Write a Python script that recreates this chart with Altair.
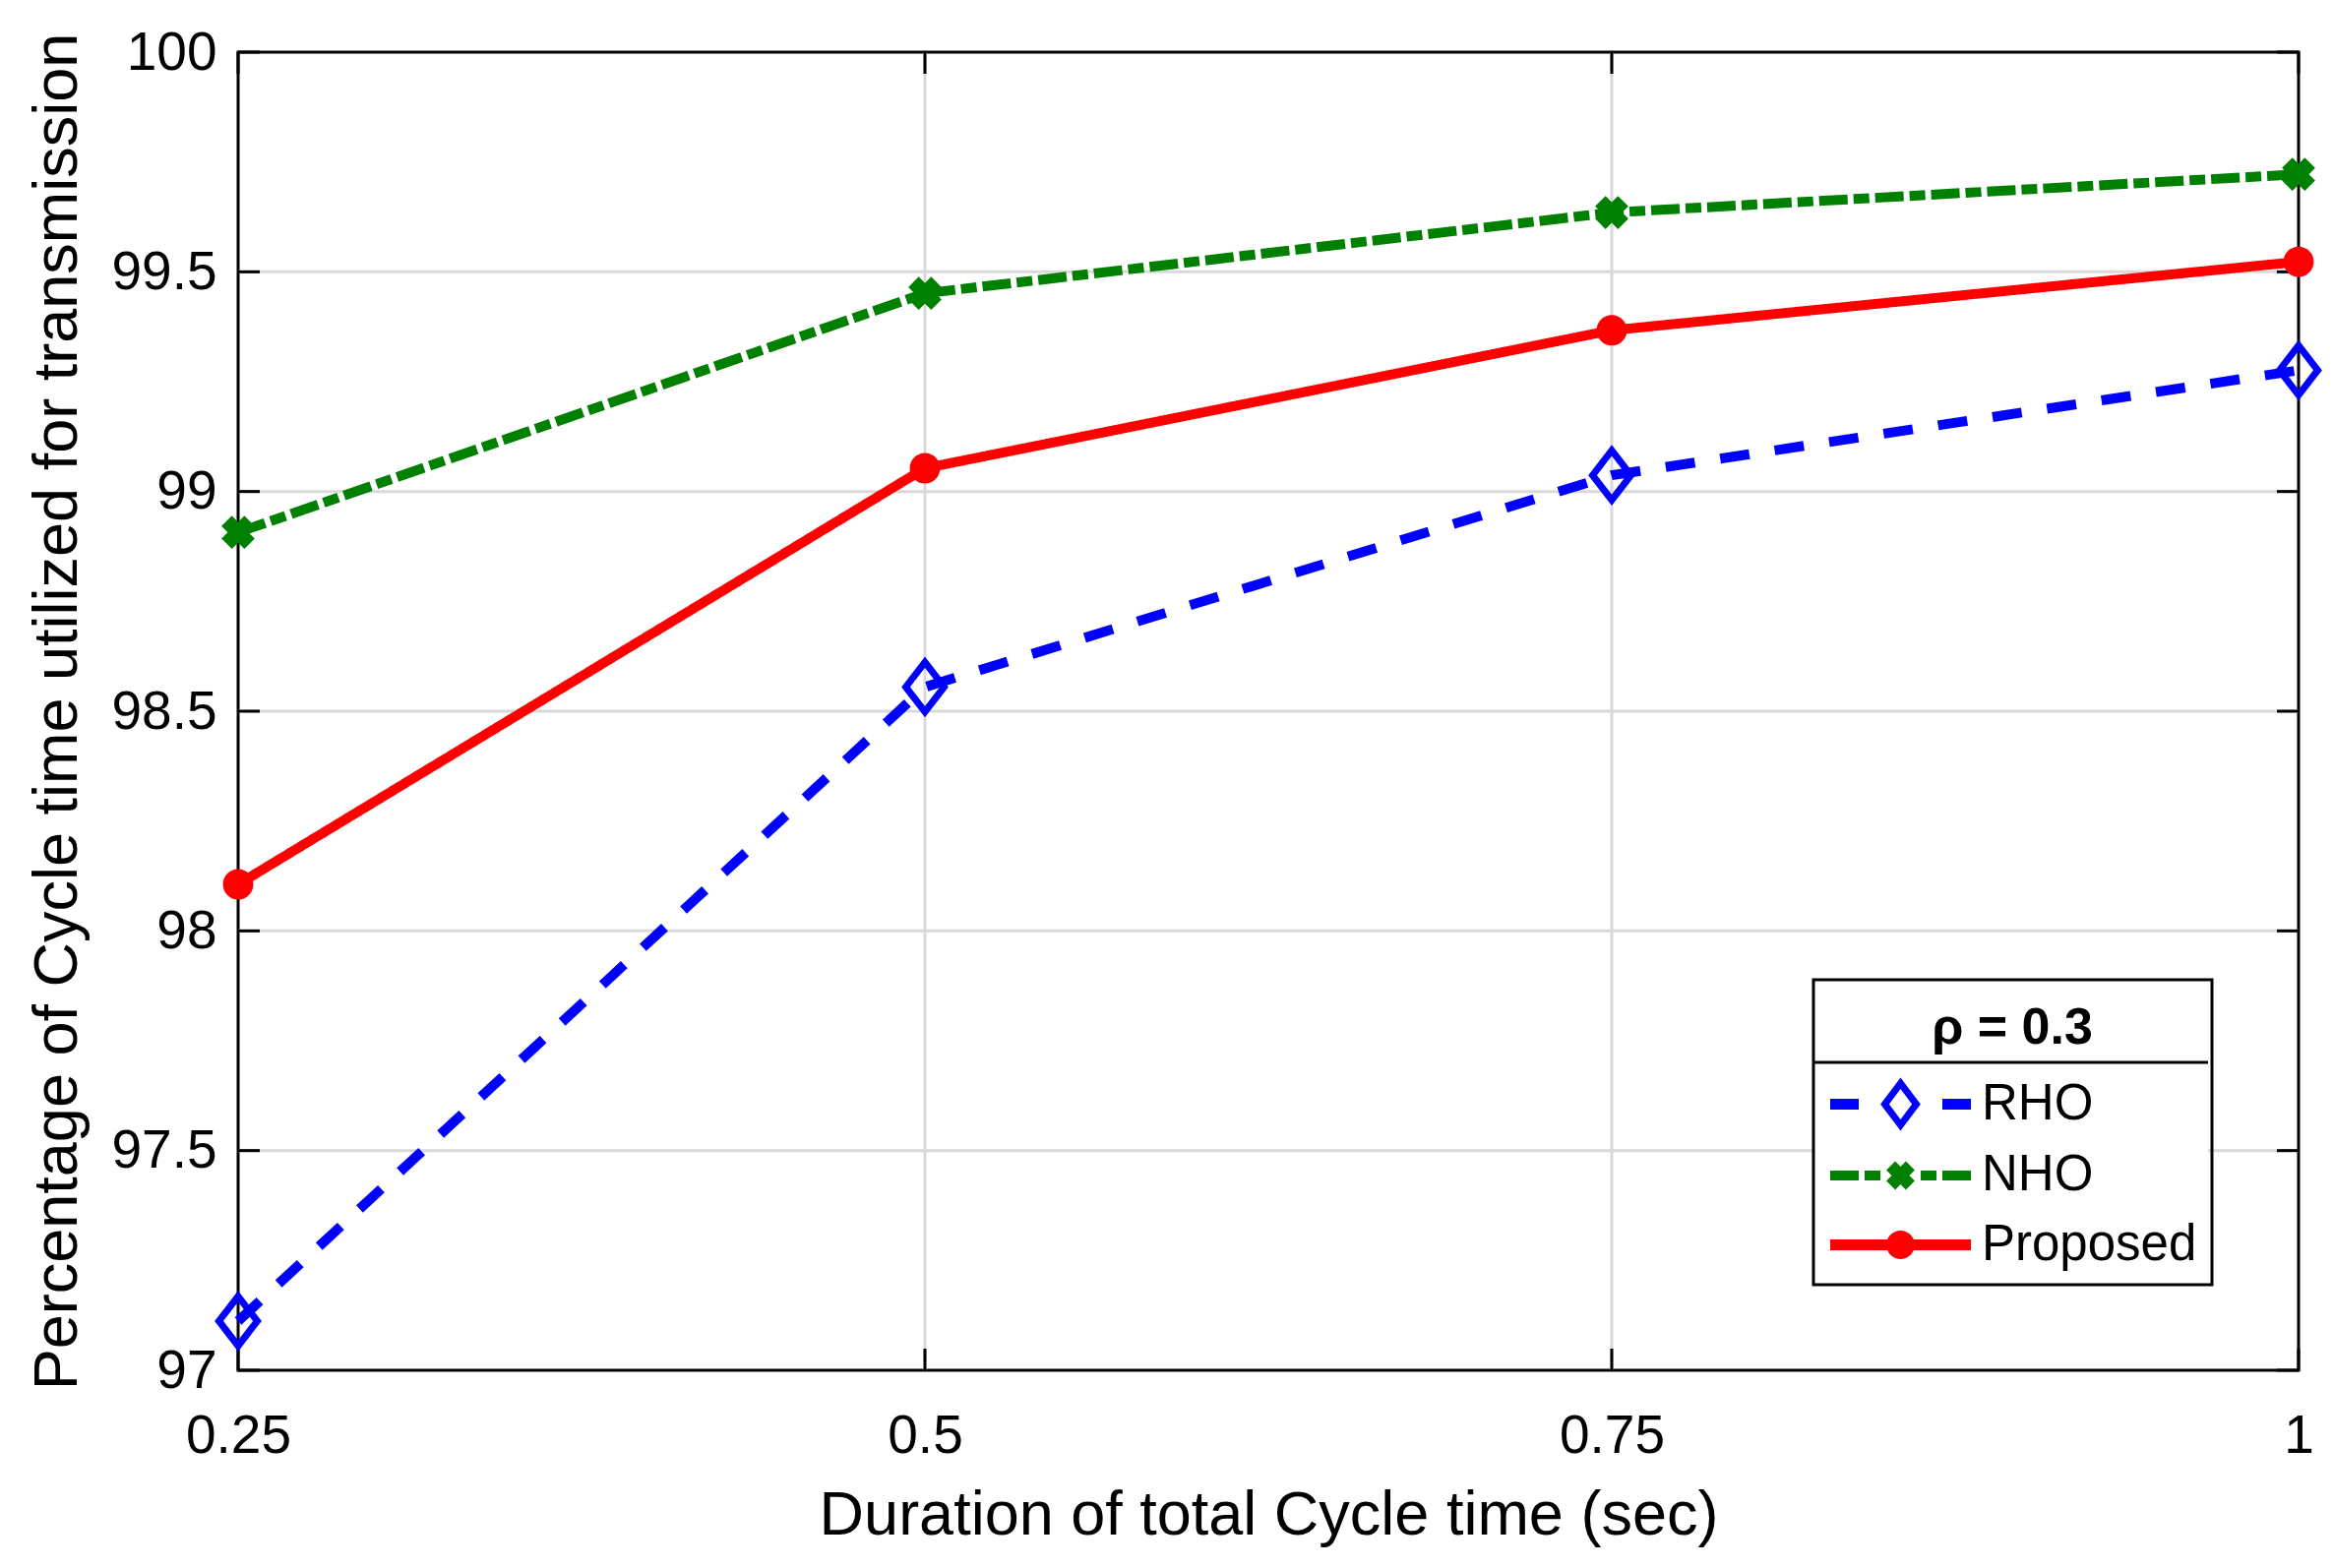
import altair as alt
import pandas as pd

# ---- data ----
x_vals = [0.25, 0.5, 0.75, 1.0]
rho_vals = [97.112, 98.555, 99.037, 99.276]
nho_vals = [98.907, 99.451, 99.635, 99.722]
proposed_vals = [98.106, 99.053, 99.367, 99.523]
series_names = ["RHO", "NHO", "Proposed"]
y_ticks = [97, 97.5, 98, 98.5, 99, 99.5, 100]
x_ticks = [0.25, 0.5, 0.75, 1.0]

rows = []
for name, vals in zip(series_names, [rho_vals, nho_vals, proposed_vals]):
    for xv, yv in zip(x_vals, vals):
        rows.append({"x": xv, "y": yv, "series": name})
df = pd.DataFrame(rows)
yt = pd.DataFrame({"v": y_ticks})
xt = pd.DataFrame({"v": x_ticks})
yg = pd.DataFrame({"v": y_ticks[1:-1]})
xg = pd.DataFrame({"v": x_ticks[1:-1]})
one = pd.DataFrame({"a": [0]})

W, H = 2094, 1340
TL = 22
FONT = "Liberation Sans"
colors = ["#0000ff", "#008000", "#ff0000"]
GRID = "#d9d9d9"

xscale = alt.Scale(domain=[0.25, 1.0], nice=False, zero=False)
yscale = alt.Scale(domain=[97, 100], nice=False, zero=False)

xaxis = alt.Axis(values=x_ticks, labelExpr="datum.value + ''",
                 title="Duration of total Cycle time (sec)",
                 grid=False, ticks=False, tickSize=0,
                 domain=False, labelFlush=False, labelPadding=40, labelFontSize=55,
                 titleFontSize=63, titlePadding=22, labelColor="black", titleColor="black",
                 titleFontWeight="normal", labelFont=FONT, titleFont=FONT)
yaxis = alt.Axis(values=y_ticks, labelExpr="datum.value + ''",
                 title="Percentage of Cycle time utilized for transmission",
                 grid=False, ticks=False, tickSize=0,
                 domain=False, labelFlush=False, labelPadding=22, labelFontSize=55,
                 titleFontSize=63, titlePadding=22, labelColor="black", titleColor="black",
                 titleFontWeight="normal", labelFont=FONT, titleFont=FONT)

X = alt.X("x:Q", scale=xscale, axis=xaxis)
Y = alt.Y("y:Q", scale=yscale, axis=yaxis)
VY = alt.Y("v:Q", scale=yscale, axis=yaxis)
VX = alt.X("v:Q", scale=xscale, axis=xaxis)

base = alt.Chart(df)

# grid (interior only, frame drawn by the view stroke)
grid_y = alt.Chart(yg).mark_rule(color=GRID, strokeWidth=3).encode(
    y=VY, x=alt.value(0), x2=alt.value(W))
grid_x = alt.Chart(xg).mark_rule(color=GRID, strokeWidth=3).encode(
    x=VX, y=alt.value(0), y2=alt.value(H))

# inside ticks (MATLAB style)
tick_l = alt.Chart(yt).mark_rule(color="black", strokeWidth=3).encode(
    y=VY, x=alt.value(0), x2=alt.value(TL))
tick_r = alt.Chart(yt).mark_rule(color="black", strokeWidth=3).encode(
    y=VY, x=alt.value(W - TL), x2=alt.value(W))
tick_b = alt.Chart(xt).mark_rule(color="black", strokeWidth=3).encode(
    x=VX, y=alt.value(H - TL), y2=alt.value(H))
tick_t = alt.Chart(xt).mark_rule(color="black", strokeWidth=3).encode(
    x=VX, y=alt.value(0), y2=alt.value(TL))

# legend box background and title separator
LX, LY, LW, LH = 1601, 943, 401, 303
leg_bg = alt.Chart(one).mark_rect(color="white").encode(
    x=alt.value(LX), x2=alt.value(LX + LW), y=alt.value(LY), y2=alt.value(LY + LH))
sep = alt.Chart(one).mark_rule(color="black", strokeWidth=3).encode(
    x=alt.value(LX), x2=alt.value(LX + LW), y=alt.value(LY + 84))

dashes = [[30, 26], [29, 6, 16, 6], [1, 0]]
line_layers = []
for name, col, dash in zip(series_names, colors, dashes):
    line_layers.append(
        base.transform_filter(alt.datum.series == name)
        .mark_line(strokeWidth=10, color=col, strokeDash=dash)
        .encode(x=X, y=Y)
    )

diamond = "M0,-1.1L0.85,0L0,1.1L-0.85,0Z"
xmark = ("M-0.72,-0.27L-0.27,-0.72L0,-0.45L0.27,-0.72L0.72,-0.27L0.45,0L0.72,0.27"
         "L0.27,0.72L0,0.45L-0.27,0.72L-0.72,0.27L-0.45,0Z")

pts_rho = base.transform_filter(alt.datum.series == "RHO").mark_point(
    shape=diamond, size=2100, filled=False, stroke="#0000ff", strokeWidth=7, opacity=1
).encode(x=X, y=Y)
pts_nho = base.transform_filter(alt.datum.series == "NHO").mark_point(
    shape=xmark, size=2200, filled=True, fill="#008000", strokeWidth=0, opacity=1
).encode(x=X, y=Y)
pts_prop = base.transform_filter(alt.datum.series == "Proposed").mark_point(
    shape="circle", size=950, filled=True, fill="#ff0000", strokeWidth=0, opacity=1
).encode(x=X, y=Y)

# legend symbols: line segment + marker drawn as one path
rho_leg = ("M-3.575,-0.275L-2.125,-0.275L-2.125,0.275L-3.575,0.275Z"
           "M2.125,-0.275L3.575,-0.275L3.575,0.275L2.125,0.275Z"
           "M0,-1.35L1.02,0L0,1.35L-1.02,0Z"
           "M0,-0.77L-0.58,0L0,0.77L0.58,0Z")
nho_leg = ("M-3.575,-0.25L-2.125,-0.25L-2.125,0.25L-3.575,0.25Z"
           "M-1.825,-0.25L-1.025,-0.25L-1.025,0.25L-1.825,0.25Z"
           "M1.025,-0.25L1.825,-0.25L1.825,0.25L1.025,0.25Z"
           "M2.125,-0.25L3.575,-0.25L3.575,0.25L2.125,0.25Z" + xmark)
prop_leg = ("M-3.575,-0.275L3.575,-0.275L3.575,0.275L-3.575,0.275Z"
            "M0.72,0A0.72,0.72 0 1,1 -0.72,0A0.72,0.72 0 1,1 0.72,0Z")


def mk_legend():
    return alt.Legend(title="ρ = 0.3", orient="none", legendX=LX, legendY=LY,
                      titleFontSize=52, titleFontWeight="bold", titleAnchor="middle",
                      titleColor="black", titleFont=FONT, labelFont=FONT,
                      titleBaseline="line-top", titleLineHeight=70,
                      labelFontSize=51, labelColor="black", symbolSize=1600,
                      symbolStrokeWidth=0, symbolOpacity=1, symbolOffset=48, labelOffset=57,
                      padding=15, rowPadding=18.5, titlePadding=34, labelLimit=400)


leg = base.mark_point(filled=True, size=1600, strokeWidth=0, opacity=0).encode(
    x=X, y=Y,
    fill=alt.Fill("series:N", scale=alt.Scale(domain=series_names, range=colors), legend=mk_legend()),
    shape=alt.Shape("series:N", scale=alt.Scale(domain=series_names,
                                                range=[rho_leg, nho_leg, prop_leg]),
                    legend=mk_legend()),
)

chart = alt.layer(grid_y, grid_x, tick_l, tick_r, tick_b, tick_t, leg_bg, sep, *line_layers,
                  pts_rho, pts_nho, pts_prop, leg).properties(
    width=W, height=H,
    padding={"left": 234, "top": 45, "right": 27, "bottom": 193},
    autosize=alt.AutoSizeParams(type="none"),
    background="white",
).configure(font=FONT).configure_view(stroke="black", strokeWidth=3).configure_legend(
    strokeWidth=3, strokeColor="black", cornerRadius=0)

chart.save("out.html", embed_options={"renderer": "svg", "actions": False})
